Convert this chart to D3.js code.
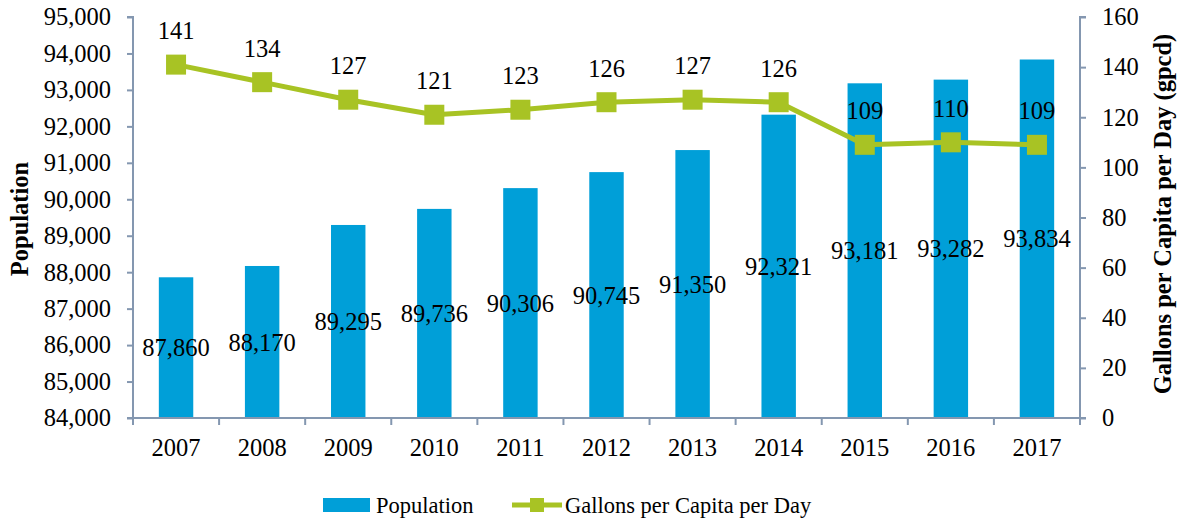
<!DOCTYPE html>
<html>
<head>
<meta charset="utf-8">
<script src="https://cdn.jsdelivr.net/npm/d3@7"></script>
<style>
html,body{margin:0;padding:0;background:#fff;}
svg{display:block;font-family:"Liberation Serif",serif;}
</style>
</head>
<body>
<svg id="chart" width="1178" height="521"></svg>
<script>
const years = ["2007","2008","2009","2010","2011","2012","2013","2014","2015","2016","2017"];
const population = [87860, 88170, 89295, 89736, 90306, 90745, 91350, 92321, 93181, 93282, 93834];
const gpcd = [141, 134, 127, 121, 123, 126, 127, 126, 109, 110, 109];
const popTicks = [84000,85000,86000,87000,88000,89000,90000,91000,92000,93000,94000,95000];
const gpcdTicks = [0,20,40,60,80,100,120,140,160];
const seriesNames = ["Population","Gallons per Capita per Day"];

(function(){
const svg = d3.select("#chart");
const pL = 133, pR = 1080, pT = 17, pB = 418;
const axisColor = "#8497B0";
const barColor = "#009FD8";
const lineColor = "#A8C324";
const numSize = "24.5px";

const x = d3.scaleBand().domain(years).range([pL, pR]).paddingInner(0.6).paddingOuter(0.3);
const yL = d3.scaleLinear().domain([84000, 95000]).range([pB, pT]);
const yR = d3.scaleLinear().domain([0, 160]).range([pB, pT]);
const fmt = d3.format(",");

// bars
svg.append("g").selectAll("rect").data(years).join("rect")
  .attr("x", d => x(d)).attr("width", x.bandwidth())
  .attr("y", (d,i) => yL(population[i]))
  .attr("height", (d,i) => pB - yL(population[i]))
  .attr("fill", barColor);

// axes
const gL = svg.append("g").attr("transform", `translate(${pL},0)`)
  .call(d3.axisLeft(yL).tickValues(popTicks).tickFormat(fmt).tickSize(6).tickPadding(16));
const gR = svg.append("g").attr("transform", `translate(${pR},0)`)
  .call(d3.axisRight(yR).tickValues(gpcdTicks).tickSize(6).tickPadding(16));
const xb = d3.scaleBand().domain(years).range([pL, pR]);
const gX = svg.append("g").attr("transform", `translate(0,${pB})`)
  .call(d3.axisBottom(xb).tickSize(0).tickPadding(21));
gX.selectAll(".bnd").data(years.concat(["end"])).join("line").attr("class","bnd")
  .attr("x1", (d,i) => pL + i*xb.step()).attr("x2", (d,i) => pL + i*xb.step())
  .attr("y1", 0).attr("y2", 7).attr("stroke", axisColor).attr("stroke-width", 2);

[gL, gR, gX].forEach(g => {
  g.select(".domain").attr("stroke", axisColor).attr("stroke-width", 2);
  g.selectAll(".tick line").attr("stroke", axisColor).attr("stroke-width", 2);
  g.selectAll(".tick text").attr("fill", "#000").style("font-size", numSize)
   .style("font-family", '"Liberation Serif", serif');
});
gL.select(".domain").attr("d", `M-6,${pT}H0V${pB}H-6`);
gR.select(".domain").attr("d", `M6,${pT}H0V${pB}H6`);
gX.select(".domain").attr("d", `M${pL},0H${pR}`);

// line
const line = d3.line().x((d,i) => x(years[i]) + x.bandwidth()/2).y(d => yR(d));
svg.append("path").datum(gpcd).attr("d", line)
  .attr("fill", "none").attr("stroke", lineColor).attr("stroke-width", 5).attr("stroke-linejoin","round");
svg.append("g").selectAll("rect").data(gpcd).join("rect")
  .attr("x", (d,i) => x(years[i]) + x.bandwidth()/2 - 10)
  .attr("y", d => yR(d) - 10)
  .attr("width", 20).attr("height", 20).attr("fill", lineColor);

// data labels
svg.append("g").selectAll("text").data(population).join("text")
  .attr("x", (d,i) => x(years[i]) + x.bandwidth()/2)
  .attr("y", d => (yL(d) + pB)/2)
  .attr("dy", "0.35em").attr("text-anchor", "middle")
  .style("font-size", numSize).text(d => fmt(d));
svg.append("g").selectAll("text").data(gpcd).join("text")
  .attr("x", (d,i) => x(years[i]) + x.bandwidth()/2)
  .attr("y", d => yR(d) - 34)
  .attr("dy", "0.35em").attr("text-anchor", "middle")
  .style("font-size", numSize).text(d => d);

// axis titles
svg.append("text").attr("transform", "translate(28,219) rotate(-90)")
  .attr("text-anchor", "middle").style("font-size", "24.5px").style("font-weight", "bold")
  .text("Population");
svg.append("text").attr("transform", "translate(1171,214) rotate(-90)")
  .attr("text-anchor", "middle").style("font-size", "24.5px").style("font-weight", "bold")
  .text("Gallons per Capita per Day (gpcd)");

// legend
const lg = svg.append("g");
lg.append("rect").attr("x", 323).attr("y", 498).attr("width", 47).attr("height", 14).attr("fill", barColor);
lg.append("text").attr("x", 376).attr("y", 505).attr("dy", "0.35em").style("font-size", "22.5px").text(seriesNames[0]);
lg.append("line").attr("x1", 512).attr("x2", 562).attr("y1", 505).attr("y2", 505)
  .attr("stroke", lineColor).attr("stroke-width", 5);
lg.append("rect").attr("x", 530).attr("y", 498).attr("width", 14).attr("height", 14).attr("fill", lineColor);
lg.append("text").attr("x", 565).attr("y", 505).attr("dy", "0.35em").style("font-size", "22.5px").text(seriesNames[1]);
})();
</script>
</body>
</html>
